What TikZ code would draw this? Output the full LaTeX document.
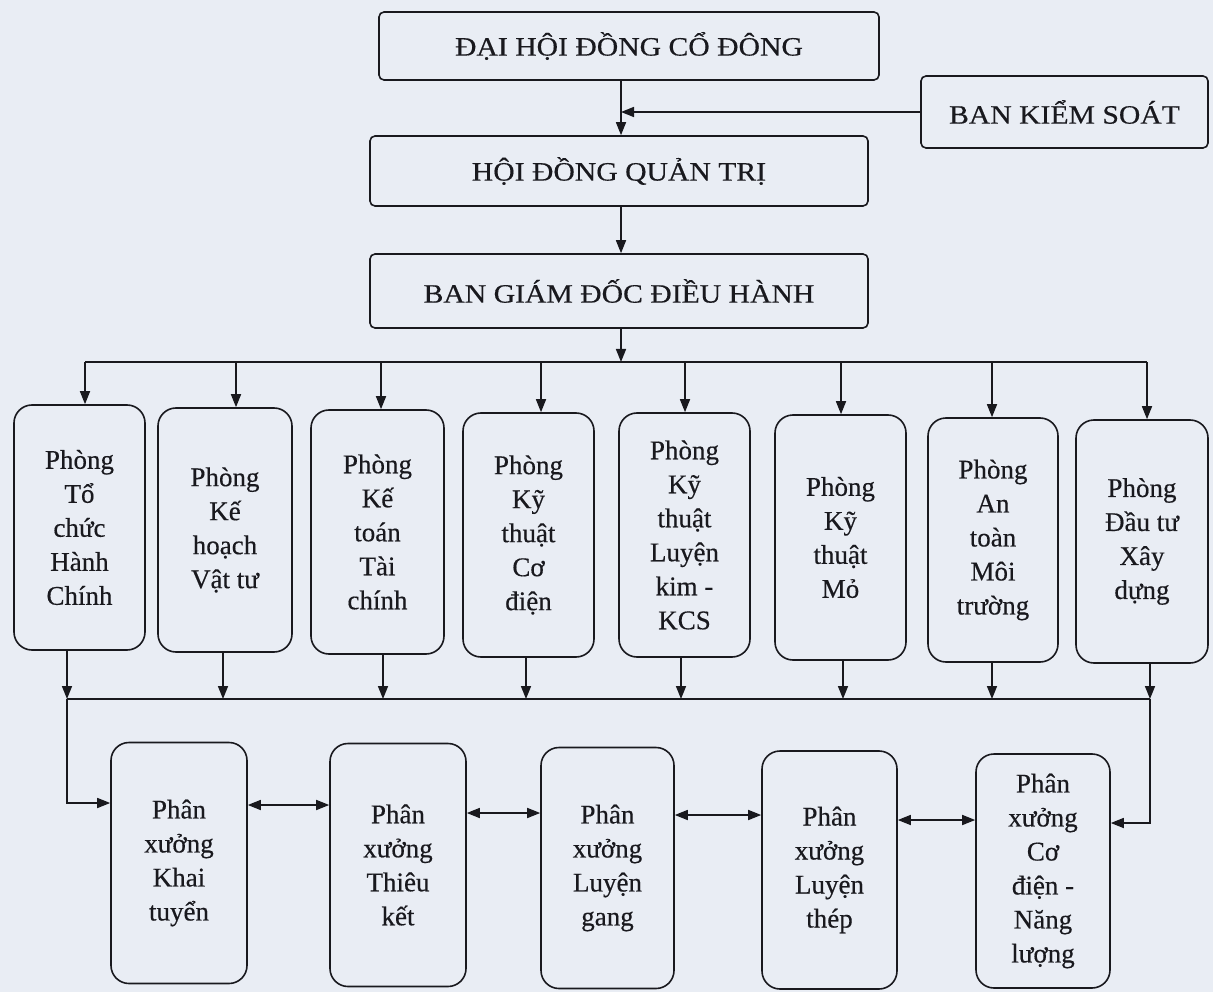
\documentclass[tikz,border=0pt]{standalone}
\usepackage{fontspec}
\setmainfont[FakeBold=0.4]{Liberation Serif}
\newfontfamily\capsface[FakeStretch=1.12,FakeBold=0.4]{Liberation Serif}
\usetikzlibrary{arrows.meta,calc}
\definecolor{paper}{RGB}{233,237,244}
\definecolor{ink}{RGB}{25,25,30}
\newcommand\capsfnt{\capsface\fontsize{26.5}{34}\selectfont}
\newcommand\deptfnt{\fontsize{27}{34}\selectfont}
\tikzset{
  topbox/.style={draw=ink, text=ink, rounded corners=5pt, line width=1.6pt, font=\capsfnt, inner sep=0pt},
  dept/.style={draw=ink, text=ink, rounded corners=18pt, line width=1.6pt, align=center, font=\deptfnt, inner sep=0pt},
  ln/.style={draw=ink, line width=1.6pt},
  arr/.style={ln, -{Triangle[length=13pt,width=10pt]}},
  darr/.style={ln, {Triangle[length=13pt,width=10pt]}-{Triangle[length=13pt,width=10pt]}}
}
\begin{document}
\begin{tikzpicture}[x=1pt,y=-1pt]
\fill[paper] (0,0) rectangle (1213,992);
\useasboundingbox (0,0) rectangle (1213,992);
% top chain
\node[topbox, minimum width=500pt, minimum height=68pt] (dh) at (629,46) {ĐẠI HỘI ĐỒNG CỔ ĐÔNG};
\node[topbox, minimum width=287pt, minimum height=72pt] (bks) at (1064.5,112) {BAN KIỂM SOÁT};
\node[topbox, minimum width=498pt, minimum height=70pt] (hd) at (619,171) {HỘI ĐỒNG QUẢN TRỊ};
\node[topbox, minimum width=498pt, minimum height=74pt] (bg) at (619,291) {BAN GIÁM ĐỐC ĐIỀU HÀNH};
% departments
\node[dept, minimum width=131pt, minimum height=245pt] (p1) at (79.5,527.5) {Phòng\\Tổ\\chức\\Hành\\Chính};
\node[dept, minimum width=134pt, minimum height=244pt] (p2) at (225,530) {Phòng\\Kế\\hoạch\\Vật tư};
\node[dept, minimum width=133pt, minimum height=244pt] (p3) at (377.5,532) {Phòng\\Kế\\toán\\Tài\\chính};
\node[dept, minimum width=131pt, minimum height=244pt] (p4) at (528.5,535) {Phòng\\Kỹ\\thuật\\Cơ\\điện};
\node[dept, minimum width=131pt, minimum height=244pt] (p5) at (684.5,535) {Phòng\\Kỹ\\thuật\\Luyện\\kim -\\KCS};
\node[dept, minimum width=131pt, minimum height=245pt] (p6) at (840.5,537.5) {Phòng\\Kỹ\\thuật\\Mỏ};
\node[dept, minimum width=130pt, minimum height=244pt] (p7) at (993,540) {Phòng\\An\\toàn\\Môi\\trường};
\node[dept, minimum width=132pt, minimum height=243pt] (p8) at (1142,541.5) {Phòng\\Đầu tư\\Xây\\dựng};
% workshops
\node[dept, minimum width=136pt, minimum height=241pt] (k1) at (179,863) {Phân\\xưởng\\Khai\\tuyển};
\node[dept, minimum width=136pt, minimum height=243pt] (k2) at (398,865) {Phân\\xưởng\\Thiêu\\kết};
\node[dept, minimum width=133pt, minimum height=241pt] (k3) at (607.5,868) {Phân\\xưởng\\Luyện\\gang};
\node[dept, minimum width=135pt, minimum height=238pt] (k4) at (829.5,870) {Phân\\xưởng\\Luyện\\thép};
\node[dept, minimum width=134pt, minimum height=234pt] (k5) at (1043,871) {Phân\\xưởng\\Cơ\\điện -\\Năng\\lượng};
% spine
\coordinate (spine) at (621,0);
\coordinate (busT) at (621,362);
\coordinate (busB) at (621,699);
\draw[arr] (dh.south -| spine) -- (hd.north -| spine);
\draw[arr] (bks.west) -- (bks.west -| spine);
\draw[arr] (hd.south -| spine) -- (bg.north -| spine);
\draw[arr] (bg.south -| spine) -- (busT);
% department arrows
\foreach \n/\t/\b [count=\i] in {p1/5.5/-12.5, p2/11/-2, p3/3.5/5.5, p4/12.5/-2.5, p5/0.5/-3.5, p6/0.5/2.5, p7/-1/-1, p8/5/8}{
  \coordinate (t\i) at ($(\n.north)+(\t,0)$);
  \coordinate (b\i) at ($(\n.south)+(\b,0)$);
  \draw[arr] (t\i |- busT) -- (t\i);
  \draw[arr] (b\i) -- (b\i |- busB);
}
\draw[ln] (t1 |- busT) -- (t8 |- busT);
\draw[ln] (b1 |- busB) -- (b8 |- busB);
% to workshops
\coordinate (k1l) at ($(k1.west)+(0,-60)$);
\coordinate (k5r) at ($(k5.east)+(0,-48)$);
\draw[arr] (b1 |- busB) -- (b1 |- k1l) -- (k1l);
\draw[arr] (b8 |- busB) -- (b8 |- k5r) -- (k5r);
% between workshops
\coordinate (d1) at ($(k1.east)+(0,-58)$);
\coordinate (d2) at ($(k2.east)+(0,-52)$);
\coordinate (d3) at ($(k3.east)+(0,-53)$);
\coordinate (d4) at ($(k4.east)+(0,-50)$);
\draw[darr] (d1) -- (d1 -| k2.west);
\draw[darr] (d2) -- (d2 -| k3.west);
\draw[darr] (d3) -- (d3 -| k4.west);
\draw[darr] (d4) -- (d4 -| k5.west);
\end{tikzpicture}
\end{document}
